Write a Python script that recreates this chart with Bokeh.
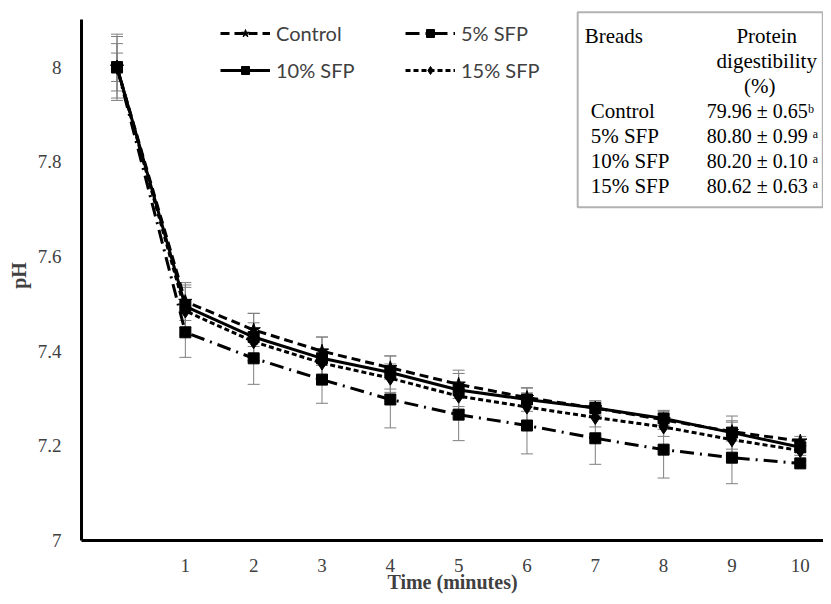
from bokeh.plotting import figure
from bokeh.models import (ColumnDataSource, Whisker, TeeHead, Legend, LegendItem,
                          BoxAnnotation, Label, FixedTicker)
from bokeh.embed import file_html
from bokeh.resources import INLINE

# ---------------- data ----------------
time_min = [0, 1, 2, 3, 4, 5, 6, 7, 8, 9, 10]
control = [8.00, 7.505, 7.445, 7.400, 7.365, 7.330, 7.302, 7.280, 7.255, 7.230, 7.210]
sfp5 = [8.00, 7.440, 7.385, 7.340, 7.298, 7.266, 7.243, 7.216, 7.192, 7.175, 7.163]
sfp10 = [8.00, 7.495, 7.430, 7.385, 7.355, 7.318, 7.298, 7.280, 7.258, 7.228, 7.197]
sfp15 = [8.00, 7.485, 7.420, 7.375, 7.343, 7.305, 7.282, 7.260, 7.240, 7.213, 7.190]
control_err = [0.065, 0.040, 0.035, 0.030, 0.025, 0.030, 0.020, 0.015, 0.020, 0.020, 0.010]
sfp5_err = [0.070, 0.053, 0.055, 0.050, 0.060, 0.055, 0.060, 0.055, 0.060, 0.055, 0.005]
sfp10_err = [0.050, 0.045, 0.050, 0.045, 0.035, 0.035, 0.025, 0.015, 0.015, 0.035, 0.010]
sfp15_err = [0.030, 0.050, 0.040, 0.030, 0.030, 0.030, 0.030, 0.020, 0.020, 0.040, 0.010]
series_names = ["Control", "5% SFP", "10% SFP", "15% SFP"]

y_ticks = [7, 7.2, 7.4, 7.6, 7.8, 8]
y_tick_labels = ["7", "7.2", "7.4", "7.6", "7.8", "8"]
x_ticks = [1, 2, 3, 4, 5, 6, 7, 8, 9, 10]
x_tick_labels = ["1", "2", "3", "4", "5", "6", "7", "8", "9", "10"]
x_title = "Time (minutes)"
y_title = "pH"

table_header = ["Breads", "Protein", "digestibility", "(%)"]
table_breads = ["Control", "5% SFP", "10% SFP", "15% SFP"]
table_values = ["79.96 \u00b1 0.65\u1d47", "80.80 \u00b1 0.99 \u1d43",
                "80.20 \u00b1 0.10 \u1d43", "80.62 \u00b1 0.63 \u1d43"]

# ---------------- figure ----------------
p = figure(width=823, height=596, x_range=(-0.52, 10.34), y_range=(7, 8.12),
           output_backend="svg", toolbar_location=None,
           min_border_left=81, min_border_right=0, min_border_top=10, min_border_bottom=56)
p.grid.visible = False
p.outline_line_color = None
p.background_fill_color = "white"

for ax in (p.xaxis[0], p.yaxis[0]):
    ax.axis_line_width = 3
    ax.axis_line_color = "black"
    ax.major_tick_line_color = None
    ax.minor_tick_line_color = None
    ax.major_label_text_font = "Liberation Serif"
    ax.major_label_text_font_size = "19px"
    ax.major_label_text_color = "#404040"
    ax.axis_label_text_font = "Liberation Serif"
    ax.axis_label_text_font_size = "20px"
    ax.axis_label_text_font_style = "bold"
    ax.axis_label_text_color = "#404040"

p.yaxis.ticker = FixedTicker(ticks=y_ticks)
p.yaxis.major_label_overrides = dict(zip(y_ticks, y_tick_labels))
p.yaxis.bounds = (7, 8.1)
p.yaxis.major_label_standoff = 14
p.yaxis.axis_label = y_title
p.yaxis.axis_label_standoff = 5

p.xaxis.ticker = FixedTicker(ticks=x_ticks)
p.xaxis.major_label_overrides = dict(zip(x_ticks, x_tick_labels))
p.xaxis.major_label_standoff = 12
p.xaxis.axis_label = x_title
p.xaxis.axis_label_standoff = -4

styles = [("9 5", "star", 14), ("14 6 2 6", "square", 11), ("solid", "square", 11), ("5 3", "diamond", 14)]
values = [control, sfp5, sfp10, sfp15]
errs = [control_err, sfp5_err, sfp10_err, sfp15_err]
gray = "#7f7f7f"

items = {}
for name, vals, err, (dash, marker, size) in zip(series_names, values, errs, styles):
    src = ColumnDataSource(dict(x=time_min, y=vals,
                                upper=[v + e for v, e in zip(vals, err)],
                                lower=[v - e for v, e in zip(vals, err)]))
    w = Whisker(base="x", upper="upper", lower="lower", source=src,
                line_color=gray, line_width=1,
                upper_head=TeeHead(size=12, line_color=gray, line_width=1),
                lower_head=TeeHead(size=12, line_color=gray, line_width=1))
    p.add_layout(w)
    ln = p.line("x", "y", source=src, line_color="black", line_width=3, line_dash=dash)
    sc = p.scatter("x", "y", source=src, marker=marker, size=size,
                   fill_color="black", line_color="black")
    items[name] = LegendItem(label=name, renderers=[ln, sc])

def mk_legend(names, x, y):
    lg = Legend(items=[items[n] for n in names], location=(x, y),
                orientation="vertical", glyph_width=50, glyph_height=20,
                label_height=20, label_standoff=6, spacing=13, padding=0, margin=0,
                border_line_color=None, background_fill_alpha=0,
                label_text_font="Lato", label_text_font_size="20px",
                label_text_color="#404040")
    p.add_layout(lg)

mk_legend(["Control", "10% SFP"], 139, 458)
mk_legend(["5% SFP", "15% SFP"], 324, 458)

# ---------------- helpers for annotation placement ----------------
def px2x(px):
    return (px - 116.5) / 68.3

def py2y(py):
    return 7 + (540 - py) / 473.0

# ---------------- inset table ----------------
box = BoxAnnotation(left=px2x(577), right=px2x(822), top=py2y(12), bottom=py2y(207),
                    fill_color="white", fill_alpha=1, line_color="black", line_width=2,
                    level="overlay")
p.add_layout(box)

tfont = "Liberation Serif"

def add_text(txt, px, py, align, size="21px"):
    p.add_layout(Label(x=px2x(px), y=py2y(py), text=txt, text_align=align,
                       text_baseline="middle", text_font=tfont, text_font_size=size,
                       text_color="black", level="overlay"))

add_text(table_header[0], 584, 36, "left")
add_text(table_header[1], 766, 36, "center")
add_text(table_header[2], 766, 61, "center")
add_text(table_header[3], 759, 86, "center")
for i, (b, v) in enumerate(zip(table_breads, table_values)):
    yy = 111 + 25 * i
    add_text(b, 590, yy, "left")
    add_text(v, 706, yy, "left", "20px")

open("out.html", "w").write(file_html(p, INLINE))
